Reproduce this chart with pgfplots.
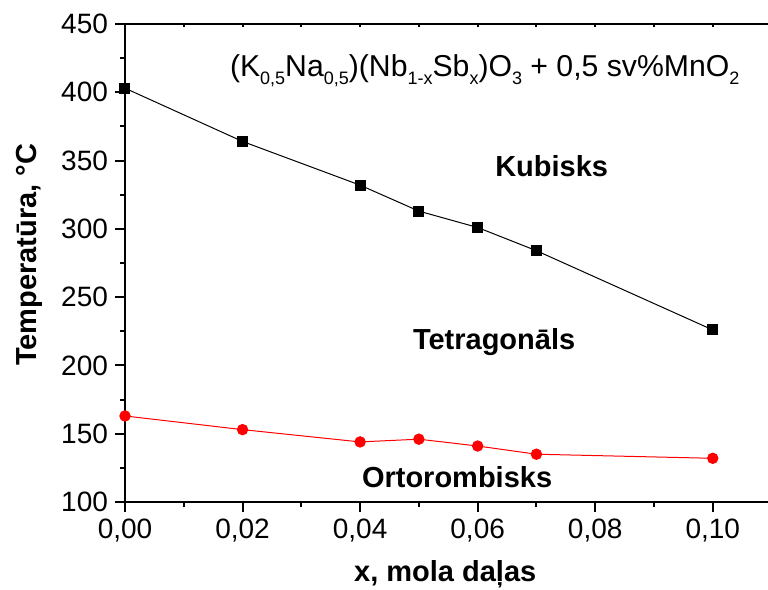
\documentclass[border=0pt]{standalone}
\usepackage{fontspec}
\setmainfont{Liberation Sans}
\usepackage{pgfplots}
\pgfplotsset{compat=1.18}

% lowered, smaller subscript for chemical formulas
\newcommand\sub[1]{\raisebox{-4pt}{\fontsize{9}{10}\selectfont #1}}
\newcommand\lbl{\fontsize{14.5}{16}\selectfont\bfseries}

\begin{document}
\begin{tikzpicture}
\pgfplotsset{
  common/.style={
    width=321.5pt, height=239pt, scale only axis,
    xmin=0, xmax=0.1094, ymin=100, ymax=450,
    scaled ticks=false,
    /pgf/number format/assume math mode=true,
  }
}
\begin{axis}[common,
  axis x line*=bottom, axis y line*=left,
  axis line style={line width=1pt, -},
  xtick={0,0.02,...,0.101}, minor xtick={0.01,0.03,...,0.095},
  ytick={100,150,...,450}, minor ytick={125,175,...,425},
  tick align=outside,
  major tick length=5pt, minor tick length=2.5pt,
  every tick/.style={line width=1pt, black},
  tick label style={font=\fontsize{14}{16}\selectfont},
  x tick label style={/pgf/number format/use comma, /pgf/number format/fixed,
    /pgf/number format/fixed zerofill, /pgf/number format/precision=2},
  xlabel={\lbl x, mola daļas},
  xlabel style={at={(axis description cs:0.498,-0.167)}, anchor=base},
  ylabel={\lbl Temperatūra, °C},
  ylabel style={at={(axis description cs:-0.137,0.517)}, anchor=base, rotate=0},
]
\coordinate (O) at (rel axis cs:0,0);
\coordinate (E) at (rel axis cs:1,1);

% cubic-tetragonal transition
\addplot[black, line width=0.5pt, mark=square*, mark size=2.5pt,
  mark options={solid, fill=black}] coordinates {
  (0.00,403) (0.02,364) (0.04,332) (0.05,313) (0.06,301) (0.07,284) (0.10,226)
};
% tetragonal-orthorhombic transition
\addplot[red, line width=0.5pt, mark=*, mark size=2.6pt,
  mark options={solid, fill=red}] coordinates {
  (0.00,163) (0.02,153) (0.04,144) (0.05,146) (0.06,141) (0.07,135) (0.10,132)
};

\node[anchor=base, font=\fontsize{15.1}{17}\selectfont] at (axis cs:0.0612,411.2)
  {(K\sub{0,5}Na\sub{0,5})(Nb\sub{1-x}Sb\sub{x})O\sub{3} + 0,5 sv\%MnO\sub{2}};
\node[anchor=base, font=\lbl] at (axis cs:0.0726,338) {Kubisks};
\node[anchor=base, font=\lbl] at (axis cs:0.0628,212) {Tetragonāls};
\node[anchor=base, font=\lbl] at (axis cs:0.0565,110.6) {Ortorombisks};
\end{axis}

% mirrored top axis with inward ticks
\begin{axis}[common,
  axis x line*=top, hide y axis,
  axis line style={line width=1pt, -},
  xtick={0,0.01,...,0.105}, xticklabels={},
  tick align=inside, major tick length=1.5pt,
  every tick/.style={line width=1pt, black},
]
\end{axis}

\pgfresetboundingbox
\path ([xshift=-62.5pt,yshift=-43.5pt]O) rectangle ([yshift=12pt]E);
\end{tikzpicture}
\end{document}
